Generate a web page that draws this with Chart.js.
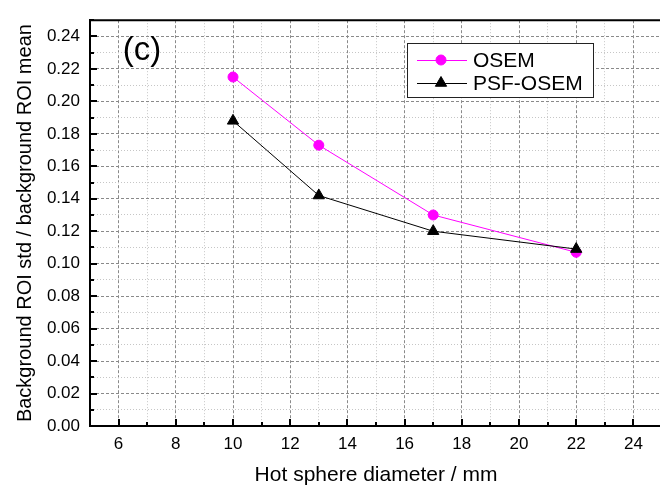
<!DOCTYPE html>
<html>
<head>
<meta charset="utf-8">
<script src="https://cdn.jsdelivr.net/npm/chart.js@4.4.1/dist/chart.umd.min.js"></script>
<style>
  html, body { margin: 0; padding: 0; background: #fff; overflow: hidden; }
  #wrap { position: relative; width: 670px; height: 491px; }
</style>
</head>
<body>
<div id="wrap"><canvas id="chart"></canvas></div>
<script>
// Data
const diameters = [10, 13, 17, 22];
const osemValues = [0.215, 0.173, 0.130, 0.107];
const psfValues = [0.188, 0.142, 0.120, 0.109];
const seriesNames = ["OSEM", "PSF-OSEM"];
const xTickLabels = ["6", "8", "10", "12", "14", "16", "18", "20", "22", "24"];
const yTickLabels = ["0.00", "0.02", "0.04", "0.06", "0.08", "0.10", "0.12",
                     "0.14", "0.16", "0.18", "0.20", "0.22", "0.24"];

const FONT = "'Liberation Sans', Arial, sans-serif";

function labelFor(list, v) {
  const hit = list.find(l => Math.abs(parseFloat(l) - v) < 1e-6);
  return hit === undefined ? "" : hit;
}
const isMajorX = v => labelFor(xTickLabels, v) !== "";
const isMajorY = v => labelFor(yTickLabels, v) !== "";

function gridColor(major) { return major ? "#8a8a8a" : "#c6c6c6"; }
function gridDash(major) { return major ? [3, 2] : [1, 2]; }

// frame, inward ticks, legend and panel label
const frame = {
  id: "frame",
  afterDraw(chart) {
    const { ctx, chartArea: a, scales: { x, y } } = chart;
    ctx.save();
    ctx.strokeStyle = "#000";
    ctx.lineWidth = 2;
    x.ticks.forEach(t => {
      const px = Math.round(x.getPixelForValue(t.value));
      const len = isMajorX(t.value) ? 7 : 4;
      ctx.beginPath(); ctx.moveTo(px, a.bottom); ctx.lineTo(px, a.bottom - len); ctx.stroke();
    });
    y.ticks.forEach(t => {
      const py = Math.round(y.getPixelForValue(t.value));
      const len = isMajorY(t.value) ? 7 : 4;
      ctx.beginPath(); ctx.moveTo(a.left, py); ctx.lineTo(a.left + len, py); ctx.stroke();
    });
    ctx.beginPath();
    ctx.moveTo(a.left, a.top); ctx.lineTo(a.right, a.top); ctx.lineTo(a.right, a.bottom);
    ctx.stroke();

    // panel label
    ctx.fillStyle = "#000";
    ctx.font = "33px " + FONT;
    ctx.textAlign = "center";
    ctx.textBaseline = "middle";
    ctx.fillText("(c)", 142, 51);

    // legend box
    ctx.fillStyle = "#fff";
    ctx.fillRect(407, 43, 186, 54);
    ctx.lineWidth = 1;
    ctx.strokeStyle = "#222";
    ctx.strokeRect(407.5, 43.5, 186, 54);
    ctx.font = "21px " + FONT;
    ctx.textAlign = "left";
    chart.data.datasets.forEach((ds, i) => {
      const ly = 60 + i * 23;
      ctx.strokeStyle = ds.borderColor;
      ctx.lineWidth = 1;
      ctx.beginPath(); ctx.moveTo(417, ly + 0.5); ctx.lineTo(467, ly + 0.5); ctx.stroke();
      ctx.fillStyle = ds.backgroundColor;
      Chart.helpers.drawPoint(ctx, { pointStyle: ds.pointStyle, radius: ds.pointRadius, borderWidth: 1 }, 441, ly);
      ctx.fillStyle = "#000";
      ctx.fillText(ds.label, 473, ly + 1);
    });
    ctx.restore();
  }
};

new Chart(document.getElementById("chart"), {
  type: "line",
  data: {
    datasets: [
      {
        label: seriesNames[0],
        data: diameters.map((d, i) => ({ x: d, y: osemValues[i] })),
        borderColor: "#ff00ff", backgroundColor: "#ff00ff",
        borderWidth: 1, pointStyle: "circle", pointRadius: 5, order: 1
      },
      {
        label: seriesNames[1],
        data: diameters.map((d, i) => ({ x: d, y: psfValues[i] })),
        borderColor: "#000", backgroundColor: "#000",
        borderWidth: 1, pointStyle: "triangle", pointRadius: 6.5, order: 0
      }
    ]
  },
  options: {
    responsive: true,
    maintainAspectRatio: false,
    animation: false,
    layout: { padding: { top: 6, right: 3, left: 0, bottom: 0 } },
    plugins: { legend: { display: false }, tooltip: { enabled: false } },
    scales: {
      x: {
        type: "linear", min: 5, max: 25,
        afterFit: s => { s.height = 65; },
        ticks: {
          stepSize: 1, autoSkip: false, maxRotation: 0, padding: 8,
          color: "#000", font: { family: FONT, size: 17 },
          callback: v => labelFor(xTickLabels, v)
        },
        grid: {
          drawTicks: false, lineWidth: 1,
          color: c => gridColor(isMajorX(c.tick.value))
        },
        border: {
          display: true, color: "#000", width: 2,
          dash: c => c.tick ? gridDash(isMajorX(c.tick.value)) : []
        },
        title: {
          display: true, text: "Hot sphere diameter / mm", color: "#000",
          font: { family: FONT, size: 21 }, padding: { top: 0, bottom: 3 }
        }
      },
      y: {
        type: "linear", min: 0, max: 0.25,
        afterFit: s => { s.width = 90; },
        ticks: {
          stepSize: 0.01, autoSkip: false, padding: 10,
          color: "#000", font: { family: FONT, size: 17 },
          callback: v => labelFor(yTickLabels, v)
        },
        grid: {
          drawTicks: false, lineWidth: 1,
          color: c => gridColor(isMajorY(c.tick.value))
        },
        border: {
          display: true, color: "#000", width: 2,
          dash: c => c.tick ? gridDash(isMajorY(c.tick.value)) : []
        },
        title: {
          display: true, text: "Background ROI std / background ROI mean", color: "#000",
          font: { family: FONT, size: 20 }, padding: { top: 13, bottom: 0 }
        }
      }
    }
  },
  plugins: [frame]
});
</script>
</body>
</html>
